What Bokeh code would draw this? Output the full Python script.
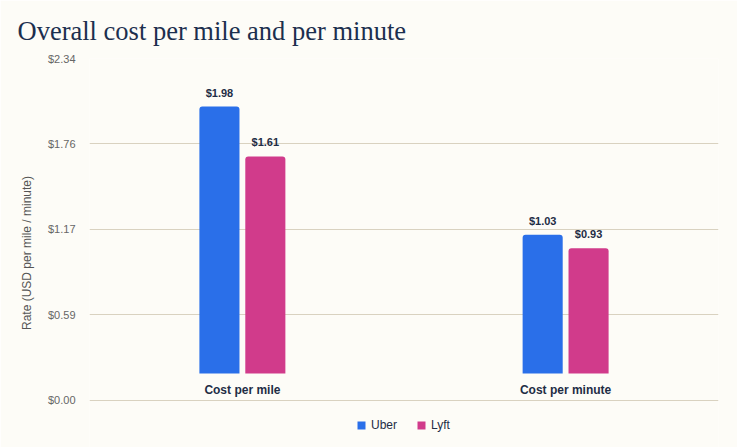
from bokeh.plotting import figure
from bokeh.models import (Range1d, FactorRange, FixedTicker, ColumnDataSource,
                          Legend, LegendItem)
from bokeh.transform import dodge
from bokeh.core.properties import value
from bokeh.embed import file_html
from bokeh.resources import INLINE

# ---- data ----
categories = ["Cost per mile", "Cost per minute"]
uber = [1.98, 1.03]
lyft = [1.61, 0.93]
uber_labels = ["$1.98", "$1.03"]
lyft_labels = ["$1.61", "$0.93"]
tick_values = [0.0, 0.585, 1.17, 1.755, 2.34]
tick_labels = ["$0.00", "$0.59", "$1.17", "$1.76", "$2.34"]

BG = "#fdfcf7"
NAVY = "#1f2d45"
UBER_C = "#2a6fe9"
LYFT_C = "#d13b8b"

src = ColumnDataSource(dict(cat=categories, uber=uber, lyft=lyft,
                            ul=uber_labels, ll=lyft_labels,
                            zero=[0.0] * len(categories)))

p = figure(width=737, height=447,
           x_range=FactorRange(*categories, range_padding=-0.027),
           y_range=Range1d(-0.3216, 2.34),
           output_backend="svg", toolbar_location=None,
           background_fill_color=BG, border_fill_color=BG,
           outline_line_color=None,
           min_border_left=89, min_border_right=19,
           min_border_top=58, min_border_bottom=0)
p.extra_y_ranges = {"bars": Range1d(-0.549, 2.337)}
p.xaxis.visible = False

# title
p.title.text = "Overall cost per mile and per minute"
p.title.text_font = "Liberation Serif"
p.title.text_font_size = "26.5px"
p.title.text_font_style = "normal"
p.title.text_color = "#1c2f4e"
p.title.offset = -72
p.title.standoff = 25

off = 0.071
w = 0.124
r1 = p.vbar(x=dodge("cat", -off, range=p.x_range), top="uber", bottom=0, width=w,
            source=src, y_range_name="bars", fill_color=UBER_C, line_color=None,
            border_radius=(3, 3, 0, 0))
r2 = p.vbar(x=dodge("cat", off, range=p.x_range), top="lyft", bottom=0, width=w,
            source=src, y_range_name="bars", fill_color=LYFT_C, line_color=None,
            border_radius=(3, 3, 0, 0))

for col, lab, o in (("uber", "ul", -off), ("lyft", "ll", off)):
    p.text(x=dodge("cat", o, range=p.x_range), y=col, text=lab, source=src,
           y_range_name="bars", text_align="center", text_baseline="bottom",
           y_offset=-8, text_font=value("Liberation Sans"), text_font_size="11px",
           text_font_style="bold", text_color=NAVY)

# category labels, sitting just above the $0.00 baseline
p.text(x="cat", y="zero", text="cat", source=src, text_align="center",
       text_baseline="middle", y_offset=-10, text_font=value("Liberation Sans"),
       text_font_size="12px", text_font_style="bold", text_color=NAVY)

# y axis
p.yaxis.ticker = FixedTicker(ticks=tick_values)
p.yaxis.major_label_overrides = {v: l for v, l in zip(tick_values, tick_labels)}
p.yaxis.axis_line_color = None
p.yaxis.major_tick_line_color = None
p.yaxis.minor_tick_line_color = None
p.yaxis.major_label_text_font = "Liberation Sans"
p.yaxis.major_label_text_font_size = "11px"
p.yaxis.major_label_text_color = "#666666"
p.yaxis.major_label_standoff = 8
p.yaxis.axis_label = "Rate (USD per mile / minute)"
p.yaxis.axis_label_text_font = "Liberation Sans"
p.yaxis.axis_label_text_font_size = "12px"
p.yaxis.axis_label_text_font_style = "normal"
p.yaxis.axis_label_text_color = "#555555"
p.yaxis.axis_label_standoff = 11

p.ygrid.grid_line_color = "#d9d2c0"
p.xgrid.grid_line_color = None

legend = Legend(items=[LegendItem(label="Uber", renderers=[r1]),
                       LegendItem(label="Lyft", renderers=[r2])],
                orientation="horizontal", location=(267, 15),
                background_fill_alpha=0, border_line_color=None,
                glyph_width=10, glyph_height=10, label_height=12,
                label_standoff=5, spacing=19, padding=0, margin=0,
                label_text_font="Liberation Sans", label_text_font_size="12px",
                label_text_color=NAVY)
p.add_layout(legend)

open("out.html", "w").write(file_html(p, INLINE))
